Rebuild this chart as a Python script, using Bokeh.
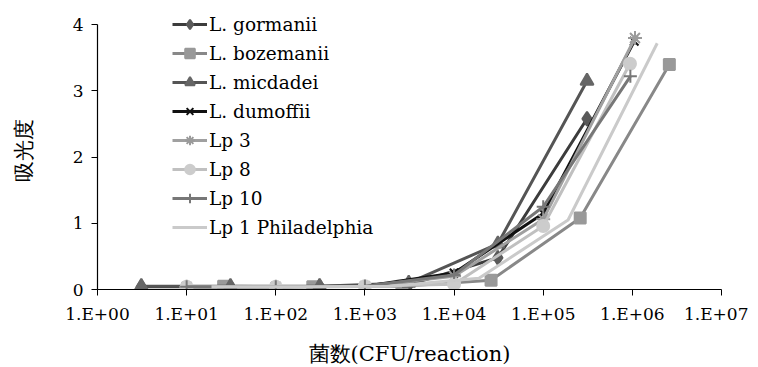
from bokeh.plotting import figure
from bokeh.models import FixedTicker, CustomJSTickFormatter, Legend
from bokeh.embed import file_html
from bokeh.resources import INLINE

# ---- data ----
series_names = ["L. gormanii", "L. bozemanii", "L. micdadei", "L. dumoffii",
                "Lp 3", "Lp 8", "Lp 10", "Lp 1 Philadelphia"]

x_gormanii = [3.1, 31, 310, 3100, 31000, 310000]
y_gormanii = [0.04, 0.04, 0.05, 0.07, 0.48, 2.58]

x_bozemanii = [26, 260, 2600, 26000, 260000, 2600000]
y_bozemanii = [0.05, 0.04, 0.05, 0.14, 1.08, 3.40]

x_micdadei = [3.1, 31, 310, 3100, 31000, 310000]
y_micdadei = [0.05, 0.05, 0.05, 0.10, 0.69, 3.15]

x_dumoffii = [10, 100, 1000, 10000, 100000, 1050000]
y_dumoffii = [0.04, 0.04, 0.05, 0.25, 1.15, 3.75]

x_lp3 = [10, 100, 1000, 10000, 100000, 1070000]
y_lp3 = [0.04, 0.04, 0.05, 0.20, 1.06, 3.80]

x_lp8 = [10, 100, 1000, 10000, 100000, 940000]
y_lp8 = [0.04, 0.04, 0.05, 0.08, 0.96, 3.41]

x_lp10 = [10, 100, 1000, 10000, 100000, 950000]
y_lp10 = [0.04, 0.04, 0.05, 0.22, 1.25, 3.22]

x_lp1 = [19, 190, 1900, 19000, 190000, 1900000]
y_lp1 = [0.04, 0.04, 0.05, 0.17, 1.05, 3.72]

x_ticks = [1, 10, 100, 1000, 10000, 100000, 1000000, 10000000]
y_ticks = [0, 1, 2, 3, 4]

FONT = "DejaVu Serif"

p = figure(x_axis_type="log", x_range=(1, 1e7), y_range=(0, 4.2),
           frame_width=624, frame_height=278,
           min_border_left=97, min_border_top=11, min_border_right=27, min_border_bottom=74,
           output_backend="svg", toolbar_location=None,
           background_fill_color="white", border_fill_color="white")
p.outline_line_color = None
p.xgrid.visible = False
p.ygrid.visible = False

for ax in (p.xaxis[0], p.yaxis[0]):
    ax.axis_line_color = "black"
    ax.axis_line_width = 1.2
    ax.major_tick_line_color = "black"
    ax.major_tick_in = 0
    ax.major_tick_out = 6
    ax.minor_tick_line_color = None
    ax.major_label_text_font = FONT
    ax.major_label_text_font_size = "17px"
    ax.major_label_text_color = "black"
    ax.axis_label_text_font = FONT
    ax.axis_label_text_font_style = "normal"
    ax.axis_label_text_color = "black"

p.xaxis.ticker = FixedTicker(ticks=x_ticks, minor_ticks=[])
p.xaxis.formatter = CustomJSTickFormatter(code="""
const e = Math.round(Math.log10(tick));
return "1.E+" + (e < 10 ? "0" + e : "" + e);
""")
p.xaxis.major_label_standoff = 8
p.xaxis.axis_label = "菌数(CFU/reaction)"
p.xaxis.axis_label_text_font_size = "21px"
p.xaxis.axis_label_standoff = 15

p.yaxis.bounds = (0, 4)
p.yaxis.ticker = FixedTicker(ticks=y_ticks, minor_ticks=[])
p.yaxis.major_label_standoff = 8
p.yaxis.axis_label = "吸光度"
p.yaxis.axis_label_text_font_size = "21px"
p.yaxis.axis_label_standoff = 34

styles = [
    (x_gormanii, y_gormanii, "#3c3c3c", "diamond", "#5a5a5a", 14),
    (x_bozemanii, y_bozemanii, "#888888", "square", "#999999", 11),
    (x_micdadei, y_micdadei, "#555555", "triangle", "#666666", 13),
    (x_dumoffii, y_dumoffii, "#111111", "x", "#111111", 12),
    (x_lp3, y_lp3, "#a0a0a0", "asterisk", "#9a9a9a", 14),
    (x_lp8, y_lp8, "#c0c0c0", "circle", "#cccccc", 12),
    (x_lp10, y_lp10, "#777777", "cross", "#777777", 13),
    (x_lp1, y_lp1, "#cacaca", None, None, 0),
]

items = []
for name, (xs, ys, lc, mk, mc, ms) in zip(series_names, styles):
    rs = [p.line(xs, ys, line_color=lc, line_width=3)]
    if mk is not None:
        rs.append(p.scatter(xs, ys, marker=mk, size=ms, fill_color=mc,
                            line_color=mc, line_width=2))
    items.append((name, rs))

legend = Legend(items=items, location=(75, 50),
                label_text_font=FONT, label_text_font_size="18.5px",
                label_text_color="black",
                glyph_width=35, glyph_height=24, label_height=24,
                label_standoff=2, spacing=5, padding=0, margin=0,
                border_line_color=None, background_fill_alpha=0)
p.add_layout(legend, "center")

open("out.html", "w").write(file_html(p, INLINE))
